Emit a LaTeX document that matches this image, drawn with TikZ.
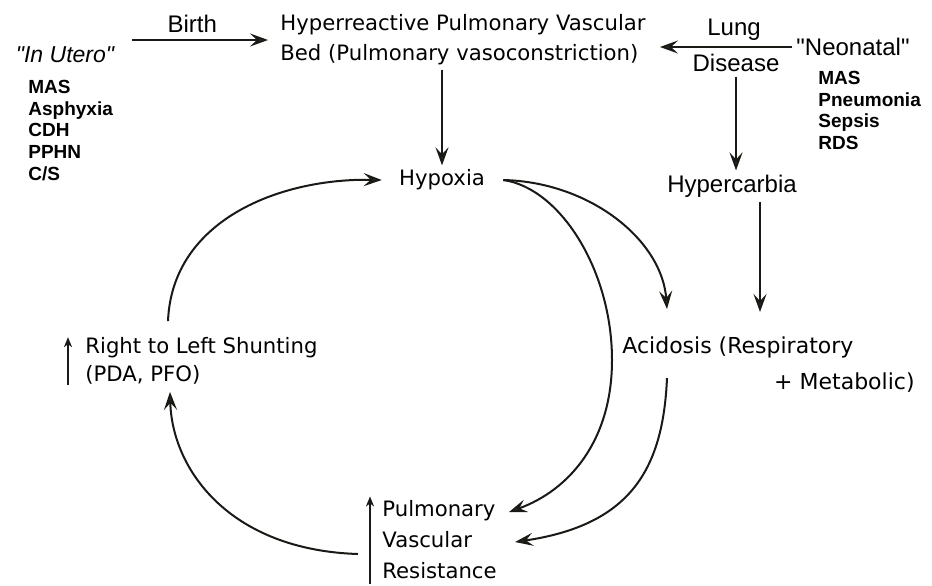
\documentclass[tikz,border=0pt]{standalone}
\usepackage{fontspec}
\setmainfont{Liberation Sans}[Ligatures=TeXOff]
\newfontfamily\humfont{DejaVu Sans}
\usetikzlibrary{arrows.meta}
\definecolor{ink}{RGB}{25,25,22}
\definecolor{tipgray}{RGB}{60,60,45}

\begin{document}
\begin{tikzpicture}[x=.5pt,y=-.5pt,
lbl/.style={font=\humfont\fontsize{10.6}{15}\selectfont,inner sep=2pt},
hv/.style={font=\fontsize{12}{13}\selectfont,inner sep=2pt},
lst/.style={font=\bfseries\fontsize{9.5}{10.8}\selectfont,align=left,inner sep=0pt},
arr/.style={-{Stealth[length=9pt,width=6.5pt,inset=3.5pt,fill=tipgray]},line width=1pt,draw=ink},
inc/.style={-{Stealth[length=5pt,width=4pt,inset=1.5pt]},line width=.7pt,draw=ink}]
\useasboundingbox (0,0) rectangle (932,585);

% causes
\node[hv,font=\itshape\fontsize{11.5}{13}\selectfont] (utero)at(65,55){"In Utero"};
\node[lst,anchor=north west] (uterolist)at(28,80){MAS\\Asphyxia\\CDH\\PPHN\\C/S};
\node[lbl,align=left] (hyper)at(463,40){Hyperreactive Pulmonary Vascular\\Bed (Pulmonary vasoconstriction)};
\node[hv] (neonatal)at(853,47){"Neonatal"};
\node[lst,anchor=north west] (neolist)at(818,71){MAS\\Pneumonia\\Sepsis\\RDS};
\draw[arr]([xshift=7pt]utero.east |- hyper.west)--node[hv,above=1pt,xshift=-4pt]{Birth}([xshift=-4pt]hyper.west);
\draw[arr](neonatal.west)--node[hv,above=1pt,xshift=4pt]{Lung}node[hv,below=1pt,xshift=5pt](disease){Disease}([xshift=5pt]hyper.east |- neonatal.west);

% cycle
\node[lbl] (hypoxia)at(442,180){Hypoxia};
\node[hv] (hypercarbia)at(732,186){Hypercarbia};
\node[lbl,anchor=west,font=\humfont\fontsize{11}{15}\selectfont] (acid)at(618,347){Acidosis (Respiratory};
\node[lbl,anchor=east,font=\humfont\fontsize{11}{15}\selectfont] (metab)at(919,383){+ Metabolic)};
\node[lbl,align=left,anchor=west,font=\humfont\fontsize{10.6}{15.5}\selectfont] (pvr)at(378,540){Pulmonary\\Vascular\\Resistance};
\node[lbl,align=left,anchor=west,font=\humfont\fontsize{10.6}{14}\selectfont] (shunt)at(81,361){Right to Left Shunting\\(PDA, PFO)};

\draw[arr](hypoxia.north |- hyper.south)--(hypoxia.north);
\draw[arr](disease.south)--(disease.south |- hypercarbia.north);
\draw[arr,shorten >=10pt]([xshift=14pt]hypercarbia.south)--([xshift=14pt]hypercarbia.south |- acid.north);
\draw[arr]([xshift=7pt]hypoxia.east)..controls(590,182)and(662,240)..([xshift=24.5pt,yshift=11.5pt]acid.north west);
\draw[arr]([xshift=7pt]hypoxia.east)..controls(560,188)and(612,270)..(612,360)..controls(612,440)and(570,490)..([xshift=4pt,yshift=14pt]pvr.east);
\draw[arr]([xshift=24.5pt,yshift=-8pt]acid.south west)..controls(663,470)and(630,525)..([xshift=7pt,yshift=-1pt]pvr.east);
\draw[arr]([xshift=-10pt,yshift=-7pt]pvr.west)..controls(230,550)and(172,470)..([xshift=44.5pt,yshift=-1.5pt]shunt.south west);
\draw[arr]([xshift=43.5pt,yshift=6pt]shunt.north west)..controls(172,220)and(280,178)..([xshift=-6.5pt]hypoxia.west);

% increases
\draw[inc]([xshift=-4pt]pvr.south west)--([xshift=-4pt]pvr.north west);
\draw[inc,shorten <=2pt,shorten >=2pt]([xshift=-6.5pt]shunt.south west)--([xshift=-6.5pt]shunt.north west);
\end{tikzpicture}
\end{document}
